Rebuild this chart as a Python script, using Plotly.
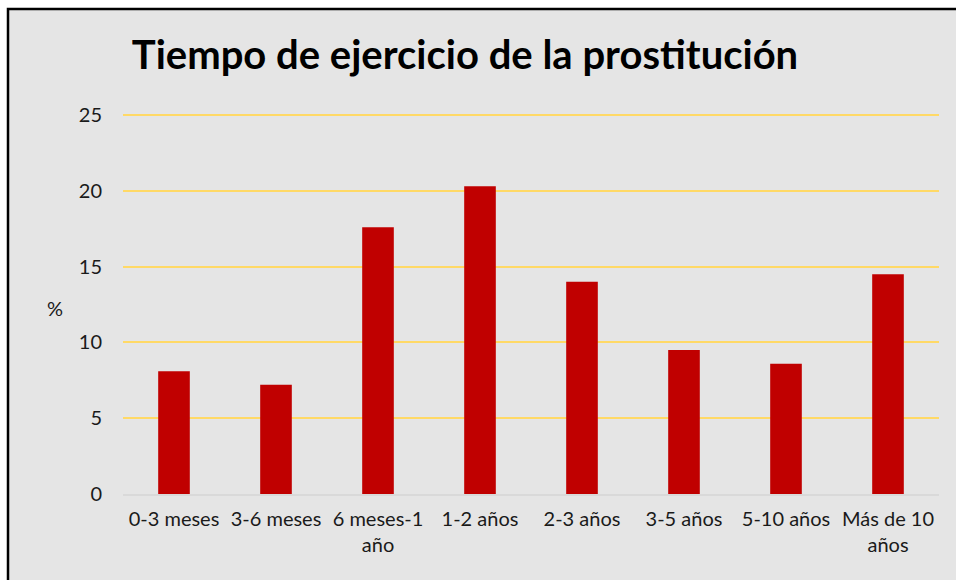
import plotly.graph_objects as go

categories = ["0-3 meses", "3-6 meses", "6 meses-1 año", "1-2 años", "2-3 años",
              "3-5 años", "5-10 años", "Más de 10 años"]
tick_labels = ["0-3 meses", "3-6 meses", "6 meses-1<br>año", "1-2 años", "2-3 años",
               "3-5 años", "5-10 años", "Más de 10<br>años"]
values = [8.1, 7.2, 17.6, 20.3, 14.0, 9.5, 8.6, 14.5]
y_ticks = [0, 5, 10, 15, 20, 25]

FONT = "Lato, Calibri, 'Open Sans', sans-serif"

L, R, T, B = 123, 17, 112, 86
PW, PH = 956 - L - R, 580 - T - B

bx0 = (8 - L) / PW
bx1 = 1 + 300 / PW
by0 = -(B + 100) / PH
by1 = 1 + (T - 9) / PH

fig = go.Figure(go.Bar(
    x=categories, y=values,
    marker=dict(color="#C00000", line=dict(width=0)),
    width=0.31,
))

fig.update_layout(
    width=956, height=580,
    margin=dict(l=L, r=R, t=T, b=B),
    paper_bgcolor="white",
    plot_bgcolor="rgba(0,0,0,0)",
    showlegend=False,
    font=dict(family=FONT, size=20, color="#1a1a1a"),
    title=dict(text="<b>Tiempo de ejercicio de la prostitución</b>",
               x=465 / 956, xanchor="center",
               y=1 - 55 / 580, yanchor="middle",
               font=dict(family=FONT, size=40, color="black")),
    xaxis=dict(tickvals=categories, ticktext=tick_labels, showgrid=False,
               showline=True, linecolor="#d9d9d9", linewidth=2,
               ticks="", ticklabelstandoff=6,
               tickfont=dict(size=20, color="#1a1a1a")),
    yaxis=dict(range=[0, 25.2], tickvals=y_ticks, showgrid=True,
               gridcolor="#FFD966", gridwidth=2, zeroline=False,
               showline=False, ticks="", ticklabelstandoff=20,
               tickfont=dict(size=20, color="#1a1a1a")),
    shapes=[
        dict(type="rect", xref="paper", yref="paper",
             x0=bx0, x1=bx1, y0=by0, y1=by1,
             fillcolor="#e5e5e5", line=dict(width=0), layer="below"),
        dict(type="path", xref="paper", yref="paper",
             path=f"M {bx0} {by0} L {bx0} {by1} L {bx1} {by1}",
             line=dict(color="black", width=2.5), layer="below"),
    ],
    annotations=[dict(text="%", xref="paper", yref="paper",
                      x=(55 - L) / PW, y=(494 - 308) / PH,
                      xanchor="center", yanchor="middle", showarrow=False,
                      font=dict(family=FONT, size=20, color="#1a1a1a"))],
)

fig.write_html(
    "out.html",
    config={"displayModeBar": False},
    post_script="document.body.style.margin='0';document.body.style.overflow='hidden';",
)
